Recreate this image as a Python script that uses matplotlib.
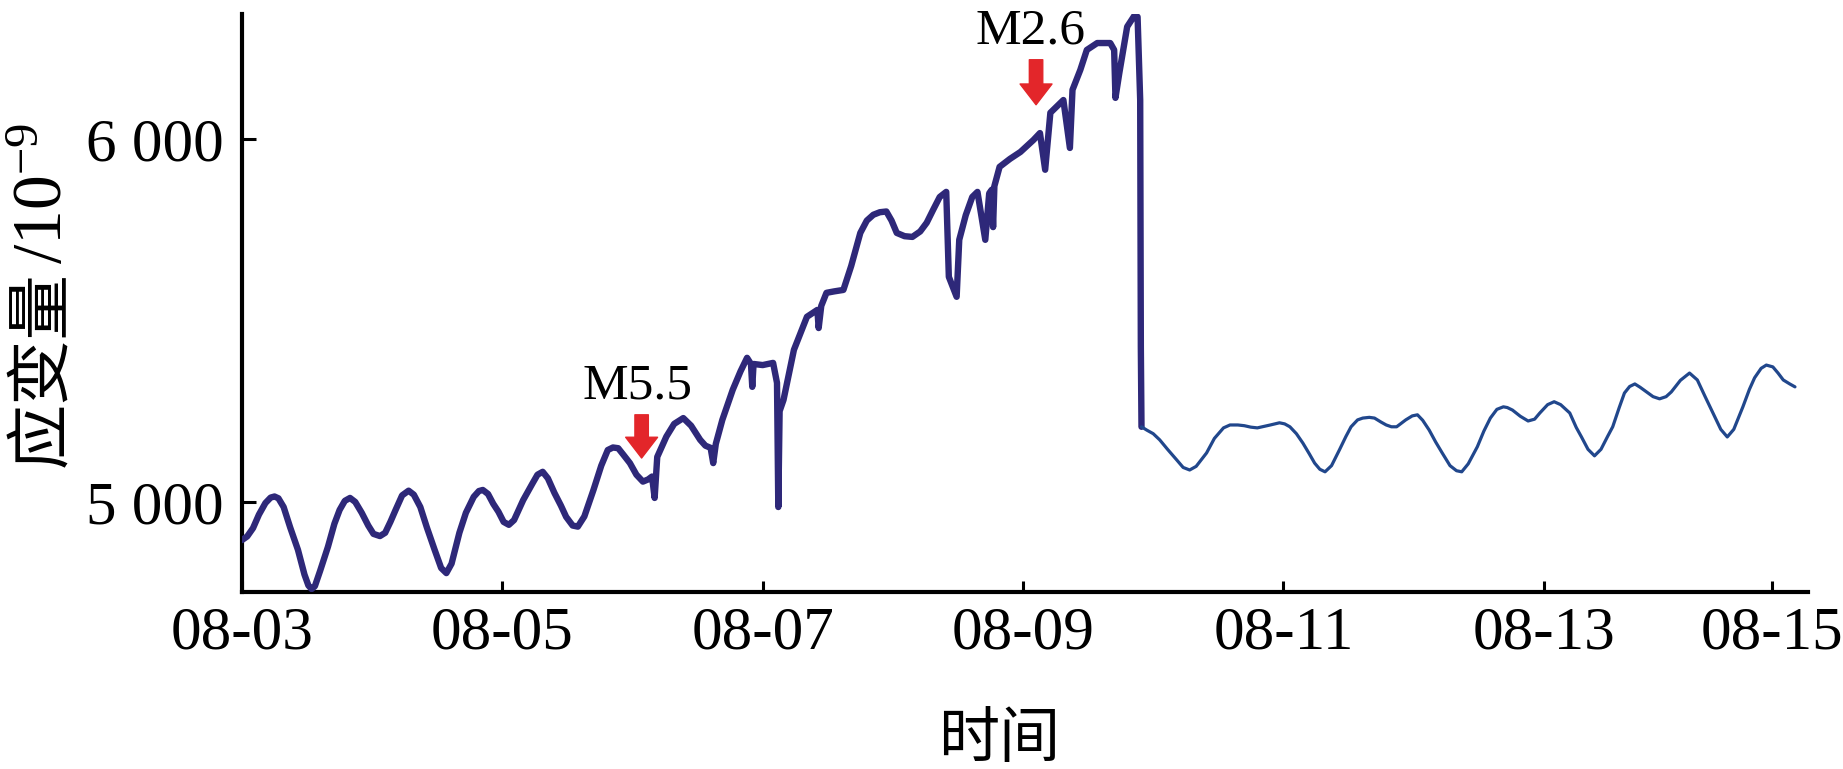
import matplotlib.pyplot as plt
from matplotlib.ticker import FuncFormatter

plt.rcParams["font.family"] = ["Liberation Serif", "DejaVu Serif", "Noto Sans CJK SC"]
plt.rcParams["mathtext.fontset"] = "custom"
plt.rcParams["mathtext.rm"] = "Liberation Serif"
plt.rcParams["mathtext.it"] = "Liberation Serif:italic"
plt.rcParams["mathtext.bf"] = "Liberation Serif:bold"

# Strain record; x is days since 08-03 00:00.
# Before the step (6.91 d) the trace is the thick noisy one.
DAYS_BEFORE = [
    0.00, 0.04, 0.085, 0.13, 0.18, 0.22, 0.25, 0.28, 0.32, 0.37, 0.43, 0.48,
    0.51, 0.535, 0.56, 0.60, 0.66, 0.71, 0.75, 0.79, 0.83, 0.87, 0.92, 0.97,
    1.01, 1.06, 1.10, 1.14, 1.18, 1.23, 1.28, 1.32, 1.37, 1.42, 1.48, 1.53,
    1.57, 1.61, 1.67, 1.72, 1.78, 1.82, 1.85, 1.89, 1.93, 1.97, 2.01, 2.05,
    2.09, 2.16, 2.23, 2.27, 2.31, 2.35, 2.40, 2.45, 2.49, 2.54, 2.58, 2.63,
    2.70, 2.76, 2.81, 2.85, 2.89, 2.93, 2.98, 3.03, 3.08, 3.12, 3.15, 3.17,
    3.19, 3.26, 3.32, 3.39, 3.45, 3.52, 3.56, 3.60, 3.62, 3.64, 3.69, 3.77,
    3.83, 3.88, 3.91, 3.92, 3.93, 4.00, 4.08, 4.11, 4.12, 4.13, 4.16, 4.24,
    4.34, 4.42, 4.43, 4.45, 4.49, 4.55, 4.62, 4.68, 4.75, 4.80, 4.85, 4.90,
    4.95, 4.99, 5.03, 5.09, 5.15, 5.21, 5.26, 5.31, 5.36, 5.41, 5.43, 5.49,
    5.51, 5.56, 5.61, 5.65, 5.71, 5.74, 5.76, 5.77, 5.78, 5.82, 5.90, 5.98,
    6.08, 6.13, 6.17, 6.21, 6.31, 6.36, 6.38, 6.44, 6.49, 6.57, 6.67, 6.70,
    6.71, 6.74, 6.80, 6.86, 6.88, 6.90, 6.905, 6.91,
]
STRAIN_BEFORE = [
    4895, 4905, 4928, 4965, 4997, 5012, 5015, 5010, 4986, 4930, 4868, 4800,
    4770, 4760, 4768, 4810, 4876, 4940, 4978, 5003, 5011, 5000, 4970, 4935,
    4912, 4906, 4915, 4945, 4978, 5018, 5031, 5020, 4986, 4930, 4868, 4818,
    4804, 4830, 4915, 4970, 5014, 5030, 5033, 5022, 4995, 4973, 4945, 4937,
    4950, 5005, 5050, 5075, 5083, 5065, 5025, 4990, 4959, 4935, 4932, 4960,
    5033, 5100, 5143, 5150, 5148, 5130, 5107, 5075, 5056, 5062, 5070, 5011,
    5124, 5180, 5215, 5231, 5210, 5171, 5155, 5149, 5107, 5160, 5226, 5309,
    5360, 5397, 5380, 5317, 5380, 5377, 5383, 5328, 4986, 5250, 5281, 5419,
    5510, 5529, 5479, 5540, 5576, 5580, 5584, 5650, 5741, 5775, 5791, 5798,
    5800, 5775, 5741, 5732, 5730, 5745, 5769, 5805, 5840, 5854, 5620, 5565,
    5722, 5790, 5840, 5854, 5722, 5850, 5860, 5757, 5870, 5923, 5945, 5964,
    5997, 6016, 5915, 6072, 6107, 5975, 6135, 6190, 6245, 6264, 6264, 6245,
    6113, 6182, 6309, 6342, 6336, 6107, 5427, 5207,
]

DAYS_AFTER = [
    6.91, 6.95, 7.00, 7.05, 7.11, 7.18, 7.23, 7.28, 7.33, 7.41, 7.47, 7.54,
    7.59, 7.65, 7.70, 7.75, 7.80, 7.85, 7.90, 7.97, 8.01, 8.05, 8.10, 8.15,
    8.20, 8.24, 8.28, 8.32, 8.37, 8.43, 8.48, 8.52, 8.57, 8.61, 8.66, 8.70,
    8.75, 8.79, 8.83, 8.87, 8.94, 8.99, 9.03, 9.07, 9.12, 9.17, 9.22, 9.28,
    9.33, 9.37, 9.42, 9.49, 9.54, 9.59, 9.64, 9.69, 9.72, 9.76, 9.82, 9.88,
    9.93, 9.97, 10.03, 10.08, 10.13, 10.20, 10.25, 10.29, 10.34, 10.39, 10.44,
    10.49, 10.53, 10.58, 10.62, 10.66, 10.70, 10.74, 10.79, 10.84, 10.89,
    10.94, 10.98, 11.05, 11.12, 11.18, 11.24, 11.30, 11.36, 11.41, 11.46,
    11.53, 11.58, 11.62, 11.67, 11.71, 11.76, 11.80, 11.84, 11.89, 11.93,
]
STRAIN_AFTER = [
    5207, 5198, 5188, 5171, 5145, 5116, 5095, 5088, 5098, 5135, 5175, 5204,
    5212, 5212, 5210, 5206, 5204, 5208, 5212, 5218, 5215, 5207, 5188, 5162,
    5132, 5107, 5090, 5083, 5100, 5143, 5180, 5207, 5226, 5231, 5233, 5231,
    5220, 5212, 5207, 5207, 5226, 5237, 5240, 5225, 5198, 5165, 5135, 5100,
    5086, 5083, 5105, 5152, 5195, 5231, 5255, 5262, 5260, 5253, 5236, 5223,
    5228, 5245, 5268, 5276, 5268, 5245, 5205, 5179, 5145, 5127, 5145,
    5180, 5207, 5260, 5300, 5318, 5325, 5316, 5303, 5290, 5284,
    5290, 5303, 5335, 5355, 5336, 5290, 5245, 5200, 5179, 5200,
    5262, 5310, 5342, 5368, 5377, 5372, 5355, 5336, 5325, 5317,
]

# earthquake markers
EVENT_LABELS = ["M5.5", "M2.6"]
EVENT_LABEL_DAY = [3.04, 6.06]
EVENT_LABEL_STRAIN = [5320, 6297]
EVENT_ARROW_DAY = [3.07, 6.10]
EVENT_ARROW_TOP = [5240, 6218]
EVENT_ARROW_TIP = [5121, 6094]

TICK_DAYS = [0, 2, 4, 6, 8, 10, 11.75]
TICK_LABELS = ["08-03", "08-05", "08-07", "08-09", "08-11", "08-13", "08-15"]
Y_TICKS = [5000, 6000]

fig = plt.figure(figsize=(18.43, 7.69), dpi=100)
ax = fig.add_axes([0.1313, 0.2302, 0.8497, 0.7516])

ax.plot(DAYS_BEFORE, STRAIN_BEFORE, color="#2e2879", linewidth=4.6,
        solid_joinstyle="round", solid_capstyle="round", zorder=3)
ax.plot(DAYS_AFTER, STRAIN_AFTER, color="#21478c", linewidth=2.3,
        solid_joinstyle="round", solid_capstyle="round", zorder=3)

for label, lx, ly, ax_x, top, tip in zip(EVENT_LABELS, EVENT_LABEL_DAY,
                                         EVENT_LABEL_STRAIN, EVENT_ARROW_DAY,
                                         EVENT_ARROW_TOP, EVENT_ARROW_TIP):
    ax.text(lx, ly, label, fontsize=37, ha="center", va="center", zorder=5)
    ax.annotate(
        "", xy=(ax_x, tip), xytext=(ax_x, top),
        arrowprops=dict(
            arrowstyle="simple,head_length=0.65,head_width=1.0,tail_width=0.42",
            color="#e3262a", mutation_scale=23, shrinkA=0, shrinkB=0,
        ),
        zorder=5,
    )

ax.set_xlim(0, 12.03)
ax.set_ylim(4752, 6344)
ax.set_xticks(TICK_DAYS)
ax.set_xticklabels(TICK_LABELS)
ax.set_yticks(Y_TICKS)
ax.yaxis.set_major_formatter(FuncFormatter(lambda v, _: f"{int(v) // 1000} {int(v) % 1000:03d}"))

for side in ("top", "right"):
    ax.spines[side].set_visible(False)
for side in ("left", "bottom"):
    ax.spines[side].set_linewidth(3.0)
ax.tick_params(axis="x", direction="in", length=8, width=2.2, pad=10, labelsize=44)
ax.tick_params(axis="y", direction="in", length=10, width=2.2, pad=13, labelsize=44)

# y label: CJK part and the unit part drawn as two pieces (mathtext has no CJK fallback)
fig.text(0.0235, 0.520, "应变量", rotation=90, fontsize=47,
         family=["Noto Sans CJK SC"], ha="center", va="center")
fig.text(0.0245, 0.657, "/10$^{-9}$", rotation=90, fontsize=50,
         ha="center", va="bottom")
fig.text(0.542, 0.038, "时间", fontsize=44, family=["Noto Sans CJK SC"],
         ha="center", va="center")

fig.savefig("out.png", dpi=100)
